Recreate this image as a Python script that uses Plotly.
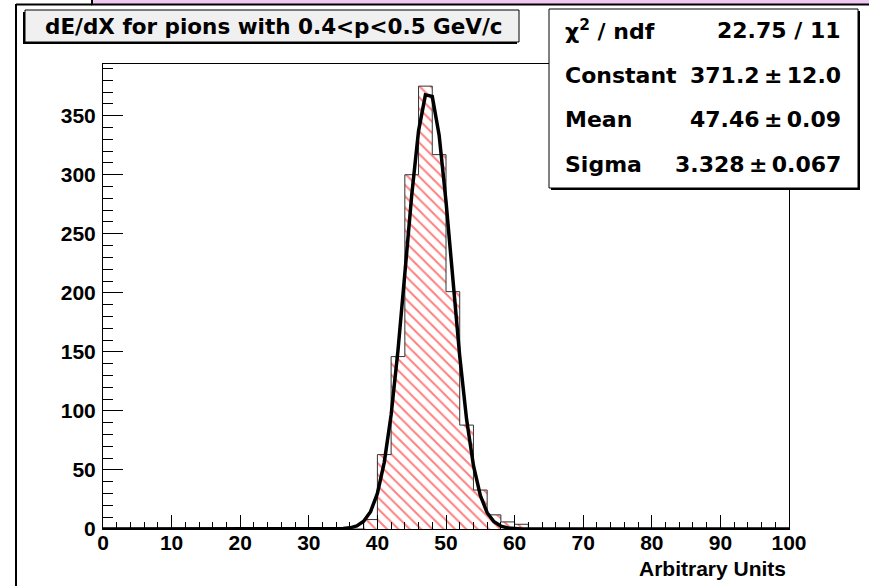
import numpy as np
import plotly.graph_objects as go

# ---- data ----
bin_width = 2
bin_lows = [36, 38, 40, 42, 44, 46, 48, 50, 52, 54, 56, 58, 60]
counts = [0, 8, 63, 146, 300, 375, 317, 201, 88, 33, 12, 6, 4]
fit_constant = 371.2
fit_mean = 47.46
fit_sigma = 3.328
stat_labels = ["χ<sup>2</sup> / ndf", "Constant", "Mean", "Sigma"]
stat_values = ["22.75 / 11", "371.2\u2009±\u200912.0", "47.46\u2009±\u20090.09", "3.328\u2009±\u20090.067"]
title_text = "dE/dX for pions with 0.4<p<0.5 GeV/c"
x_title = "Arbitrary Units"

# full histogram 0..100
edges = np.arange(0, 100 + bin_width, bin_width)
full = np.zeros(len(edges) - 1)
for lo, c in zip(bin_lows, counts):
    full[int(lo // bin_width)] = c
centers = edges[:-1] + bin_width / 2

xf = np.linspace(0, 100, 101)
yf = fit_constant * np.exp(-0.5 * ((xf - fit_mean) / fit_sigma) ** 2)

W, H = 869, 586
L, R, T, B = 103, 789, 64, 529
PW, PH = R - L, B - T


def px(x):
    return (x - L) / PW


def py(y):
    return (B - y) / PH


fig = go.Figure()
fig.add_trace(go.Bar(
    x=centers, y=full, width=bin_width,
    marker=dict(color="white", line=dict(width=0),
                pattern=dict(shape="\\", fgcolor="#ff0000", bgcolor="white",
                             size=8, solidity=0.25)),
    showlegend=False, hoverinfo="skip"))
fig.add_trace(go.Scatter(
    x=list(edges[:-1]) + [edges[-1]], y=list(full) + [full[-1]],
    mode="lines", line=dict(shape="hv", color="#333333", width=1),
    showlegend=False, hoverinfo="skip"))
fig.add_trace(go.Scatter(
    x=xf, y=yf, mode="lines", line=dict(color="black", width=3.5),
    showlegend=False, hoverinfo="skip"))

tickfont = dict(family="Liberation Sans, Arial", size=21, color="black", weight="bold")

fig.update_layout(
    width=W, height=H,
    margin=dict(l=L, r=W - R, t=T, b=H - B),
    paper_bgcolor="white", plot_bgcolor="white",
    bargap=0,
    xaxis=dict(range=[0, 100], dtick=10, tick0=0, ticks="inside", ticklen=14,
               tickcolor="black", tickwidth=1, showgrid=False, zeroline=False,
               showline=True, linecolor="black", linewidth=1, mirror=True,
               tickfont=tickfont, ticklabelstandoff=-5,
               minor=dict(dtick=2, ticks="inside", ticklen=7, tickcolor="black",
                          showgrid=False)),
    yaxis=dict(range=[0, 393.75], dtick=50, tick0=0, ticks="inside", ticklen=20,
               tickcolor="black", tickwidth=1, showgrid=False, zeroline=False,
               showline=True, linecolor="black", linewidth=1, mirror=True,
               tickfont=tickfont, ticklabelstandoff=2,
               minor=dict(dtick=10, ticks="inside", ticklen=10, tickcolor="black",
                          showgrid=False)),
)

shapes = []
# outer canvas frame (partial)
shapes.append(dict(type="rect", xref="paper", yref="paper",
                   x0=px(92), x1=px(875), y0=py(4.5), y1=py(-5),
                   fillcolor="#f0c8f0", line=dict(color="black", width=2), layer="above"))
shapes.append(dict(type="line", xref="paper", yref="paper",
                   x0=px(16), x1=px(92), y0=py(4.5), y1=py(4.5),
                   line=dict(color="black", width=2), layer="above"))
shapes.append(dict(type="line", xref="paper", yref="paper",
                   x0=px(16), x1=px(16), y0=py(4), y1=py(590),
                   line=dict(color="black", width=2), layer="above"))
# title box with shadow
shapes.append(dict(type="rect", xref="paper", yref="paper",
                   x0=px(23), x1=px(517), y0=py(44), y1=py(12),
                   fillcolor="black", line=dict(width=0), layer="above"))
shapes.append(dict(type="rect", xref="paper", yref="paper",
                   x0=px(25), x1=px(519), y0=py(42), y1=py(10),
                   fillcolor="#f0f0f0", line=dict(color="black", width=1), layer="above"))
# stats box with shadow
shapes.append(dict(type="rect", xref="paper", yref="paper",
                   x0=px(551), x1=px(860), y0=py(190), y1=py(11),
                   fillcolor="black", line=dict(width=0), layer="above"))
shapes.append(dict(type="rect", xref="paper", yref="paper",
                   x0=px(549), x1=px(858), y0=py(188), y1=py(9),
                   fillcolor="white", line=dict(color="black", width=1), layer="above"))
fig.update_layout(shapes=shapes)

sfont = dict(family="DejaVu Sans", size=22, color="black", weight="bold")
ann = []
ann.append(dict(xref="paper", yref="paper", x=px(274), y=py(27), text=title_text,
                showarrow=False, xanchor="center", yanchor="middle",
                font=dict(family="DejaVu Sans", size=21.5, color="black", weight="bold")))
rows_y = [30, 75, 119, 164]
for lab, val, yy in zip(stat_labels, stat_values, rows_y):
    ann.append(dict(xref="paper", yref="paper", x=px(563), y=py(yy), text=lab,
                    showarrow=False, xanchor="left", yanchor="middle", font=sfont))
    ann.append(dict(xref="paper", yref="paper", x=px(843), y=py(yy), text=val,
                    showarrow=False, xanchor="right", yanchor="middle", font=sfont))
ann.append(dict(xref="paper", yref="paper", x=px(788), y=py(568), text=x_title,
                showarrow=False, xanchor="right", yanchor="middle",
                font=dict(family="Liberation Sans, Arial", size=21, color="black", weight="bold")))
fig.update_layout(annotations=ann)

fig.write_html("out.html")
